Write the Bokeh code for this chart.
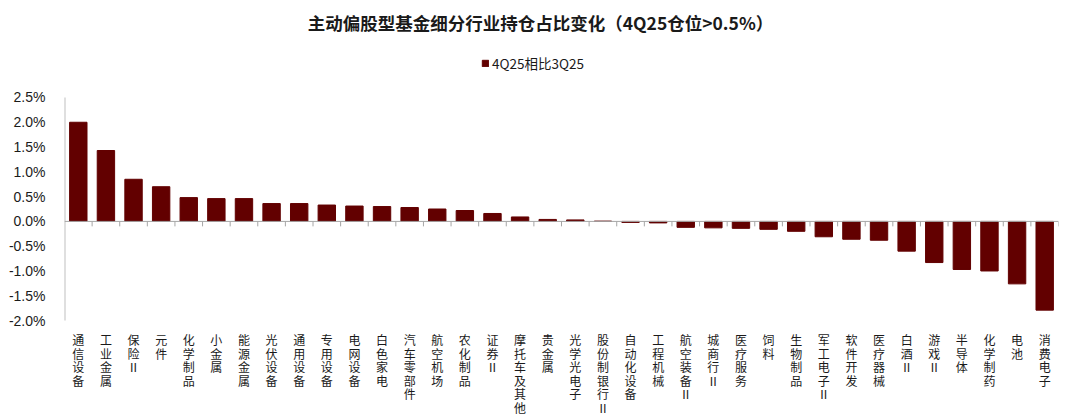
from bokeh.plotting import figure
from bokeh.models import (FactorRange, Range1d, Span, Legend, LegendItem, Label,
                          PrintfTickFormatter, FixedTicker, ColumnDataSource)
from bokeh.core.properties import value
from bokeh.transform import dodge
from bokeh.embed import file_html
from bokeh.resources import INLINE

categories = ["通信设备", "工业金属", "保险Ⅱ", "元件", "化学制品", "小金属", "能源金属",
              "光伏设备", "通用设备", "专用设备", "电网设备", "白色家电", "汽车零部件",
              "航空机场", "农化制品", "证券Ⅱ", "摩托车及其他", "贵金属", "光学光电子",
              "股份制银行Ⅱ", "自动化设备", "工程机械", "航空装备Ⅱ", "城商行Ⅱ", "医疗服务",
              "饲料", "生物制品", "军工电子Ⅱ", "软件开发", "医疗器械", "白酒Ⅱ", "游戏Ⅱ",
              "半导体", "化学制药", "电池", "消费电子"]
values = [2.00, 1.43, 0.85, 0.70, 0.48, 0.46, 0.46, 0.36, 0.36, 0.33, 0.31, 0.30, 0.28,
          0.25, 0.22, 0.16, 0.09, 0.04, 0.03, 0.005, -0.02, -0.03, -0.12, -0.13, -0.14,
          -0.16, -0.20, -0.31, -0.36, -0.38, -0.60, -0.83, -0.97, -1.00, -1.26, -1.79]
y_ticks = [-2.0, -1.5, -1.0, -0.5, 0.0, 0.5, 1.0, 1.5, 2.0, 2.5]
series_name = "4Q25相比3Q25"
title_text = "主动偏股型基金细分行业持仓占比变化（4Q25仓位>0.5%）"

BAR = "#620000"
CJK = "Noto Sans CJK SC"
AX = "#bfbfbf"

y_lo, y_hi = y_ticks[0], y_ticks[-1]
n = len(categories)
src = ColumnDataSource(dict(
    cat=categories, val=values,
    zero=[0.0] * n, tick=[-0.1] * n,
    lab=["\n".join(list(c)) for c in categories],
    laby=[y_lo - 0.22] * n,
))

# frame covers the whole figure height; axis area spans y_lo..y_hi
p = figure(width=1080, height=420, output_backend="svg", toolbar_location=None,
           x_axis_location=None,
           x_range=FactorRange(factors=categories, range_padding=0),
           y_range=Range1d(-4.016, 4.456),
           min_border_left=64, min_border_right=22, min_border_top=0, min_border_bottom=0)
p.title = None
p.outline_line_color = None
p.xgrid.grid_line_color = None
p.ygrid.grid_line_color = None

bars = p.vbar(x="cat", top="val", width=0.63, source=src, color=BAR, line_color=BAR)

# zero line with category boundary ticks
p.add_layout(Span(location=0, dimension="width", line_color="#a6a6a6", line_width=1))
p.segment(x0=dodge("cat", 0.5, range=p.x_range), y0="zero",
          x1=dodge("cat", 0.5, range=p.x_range), y1="tick",
          source=src, line_color="#a6a6a6", line_width=1)

# y axis line only over the tick span
ysrc = ColumnDataSource(dict(x=[categories[0]], y0=[y_lo], y1=[y_hi]))
p.segment(x0=dodge("x", -0.5, range=p.x_range), y0="y0",
          x1=dodge("x", -0.5, range=p.x_range), y1="y1",
          source=ysrc, line_color=AX, line_width=2)

ya = p.yaxis[0]
ya.ticker = FixedTicker(ticks=y_ticks)
ya.formatter = PrintfTickFormatter(format="%.1f%%")
ya.major_tick_line_color = None
ya.minor_tick_line_color = None
ya.axis_line_color = None
ya.major_label_standoff = 13
ya.major_label_text_font = "Liberation Sans"
ya.major_label_text_font_size = "14px"
ya.major_label_text_color = "#1a1a1a"

# vertical stacked category labels
p.text(x="cat", y="laby", text="lab", source=src, text_align="center",
       text_baseline="top", text_font=value(CJK), text_font_size="12px",
       text_line_height=0.79, text_color="#1a1a1a")

# title
p.add_layout(Label(x=476, y=398, x_units="screen", y_units="screen", text=title_text,
                   text_align="center", text_baseline="middle", text_font=CJK,
                   text_font_size="17.5px", text_font_style="bold", text_color="#1a1a1a"))

legend = Legend(items=[LegendItem(label=series_name, renderers=[bars])],
                orientation="horizontal", location=(417, 347),
                label_text_font=CJK, label_text_font_size="13.5px", label_text_color="#1a1a1a",
                glyph_width=8, glyph_height=8, label_standoff=3, label_height=14,
                border_line_color=None, background_fill_alpha=0,
                margin=0, padding=0)
p.add_layout(legend, "center")

open("out.html", "w").write(file_html(p, INLINE))
